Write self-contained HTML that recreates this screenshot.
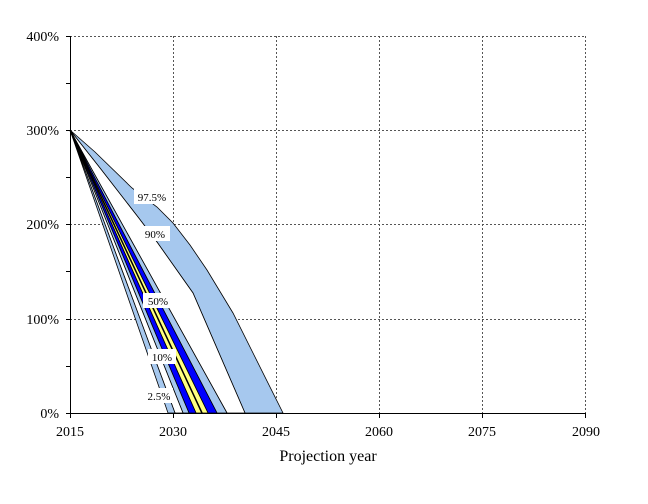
<!DOCTYPE html>
<html><head><style>body{margin:0;background:#fff}svg{display:block}text{font-family:"Liberation Serif",serif}</style></head><body>
<svg width="648" height="504" viewBox="0 0 648 504">
<g stroke="#555" stroke-width="1" stroke-dasharray="2,2" fill="none">
<line x1="70" y1="36.5" x2="586" y2="36.5"/><line x1="70" y1="130.5" x2="586" y2="130.5"/><line x1="70" y1="224.5" x2="586" y2="224.5"/><line x1="70" y1="319.5" x2="586" y2="319.5"/>
<line x1="173.5" y1="36" x2="173.5" y2="413"/><line x1="276.5" y1="36" x2="276.5" y2="413"/><line x1="379.5" y1="36" x2="379.5" y2="413"/><line x1="482.5" y1="36" x2="482.5" y2="413"/><line x1="585.5" y1="36" x2="585.5" y2="413"/>
</g>
<g stroke="#000" stroke-width="0.8">
<polygon fill="#a6c8ee" points="70,130 95,152 132,188 157,207 173,223 190,245 207,270 233,313 283,413 245,413 193,293 157,242 138,217 100,168"/>
<polygon fill="#fff" points="70,130 100,168 138,217 157,242 193,293 245,413 227,413"/>
<polygon fill="#a6c8ee" points="70,130 227,413 217,413"/>
<polygon fill="#0000ff" points="70,130 217,413 208,413"/>
<polygon fill="#ffff80" points="70,130 208,413 196,413"/>
<polygon fill="#0000ff" points="70,130 196,413 189,413"/>
<polygon fill="#a6c8ee" points="70,130 189,413 183,413"/>
<polygon fill="#fff" points="70,130 183,413 175,413"/>
<polygon fill="#a6c8ee" points="70,130 175,413 168,413"/>
<line x1="70" y1="130" x2="202" y2="413" stroke-width="1.5"/>
</g>
<g fill="#fff">
<rect x="134" y="189" width="36" height="15"/><rect x="140" y="226" width="30" height="15"/><rect x="143" y="293" width="30" height="15"/><rect x="148" y="349" width="28" height="15"/><rect x="145" y="388" width="28" height="15"/>
</g>
<g font-size="11" text-anchor="middle">
<text x="152" y="201">97.5%</text><text x="155" y="238">90%</text><text x="158" y="305">50%</text><text x="162" y="361">10%</text><text x="159" y="400">2.5%</text>
</g>
<g stroke="#000" stroke-width="1">
<line x1="70.5" y1="36" x2="70.5" y2="413"/><line x1="70" y1="413.5" x2="586" y2="413.5"/>
<line x1="66" y1="36.5" x2="70" y2="36.5"/><line x1="66" y1="83.5" x2="70" y2="83.5"/><line x1="66" y1="130.5" x2="70" y2="130.5"/><line x1="66" y1="177.5" x2="70" y2="177.5"/><line x1="66" y1="224.5" x2="70" y2="224.5"/><line x1="66" y1="271.5" x2="70" y2="271.5"/><line x1="66" y1="319.5" x2="70" y2="319.5"/><line x1="66" y1="366.5" x2="70" y2="366.5"/><line x1="66" y1="413.5" x2="70" y2="413.5"/>
<line x1="70.5" y1="413" x2="70.5" y2="418"/><line x1="173.5" y1="413" x2="173.5" y2="418"/><line x1="276.5" y1="413" x2="276.5" y2="418"/><line x1="379.5" y1="413" x2="379.5" y2="418"/><line x1="482.5" y1="413" x2="482.5" y2="418"/><line x1="585.5" y1="413" x2="585.5" y2="418"/>
</g>
<g font-size="14" text-anchor="end">
<text x="59" y="41">400%</text><text x="59" y="135">300%</text><text x="59" y="229">200%</text><text x="59" y="324">100%</text><text x="59" y="418">0%</text>
</g>
<g font-size="14" text-anchor="middle">
<text x="70" y="436">2015</text><text x="173" y="436">2030</text><text x="276" y="436">2045</text><text x="379" y="436">2060</text><text x="482" y="436">2075</text><text x="586" y="436">2090</text>
</g>
<text x="328" y="461" font-size="16" text-anchor="middle">Projection year</text>
</svg>
</body></html>
